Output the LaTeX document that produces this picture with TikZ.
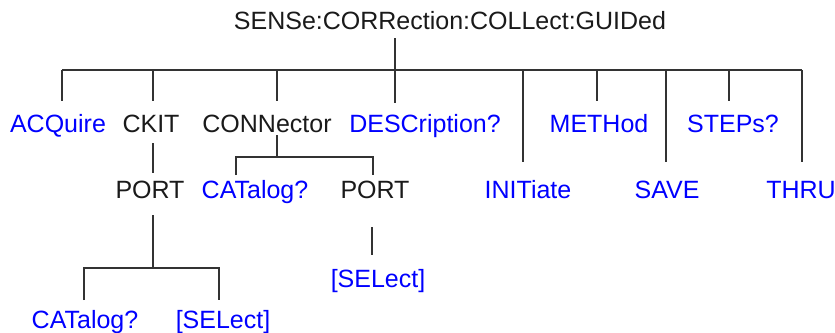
\documentclass[tikz,border=0pt]{standalone}
\usepackage{fontspec}
\setmainfont{Liberation Sans}
\definecolor{cmdblue}{RGB}{0,0,255}
\definecolor{txt}{RGB}{26,26,26}
\definecolor{wire}{RGB}{51,51,51}
\begin{document}
\begin{tikzpicture}[x=1pt,y=-1pt,
  lbl/.style={anchor=base,inner sep=0pt,font=\fontsize{25}{30}\selectfont,text=txt},
  cmd/.style={lbl,text=cmdblue},
  wire/.style={draw=wire,line width=1.3pt}]
\useasboundingbox (0,0) rectangle (835,332);
% nodes
\node[lbl] (title) at (450,29) {SENSe:CORRection:COLLect:GUIDed};
\node[cmd] (acq)   at (58,132)  {ACQuire};
\node[lbl] (ckit)  at (151,132) {CKIT};
\node[lbl] (conn)  at (267,132) {CONNector};
\node[cmd] (desc)  at (425,132) {DESCription?};
\node[cmd] (meth)  at (599,132) {METHod};
\node[cmd] (steps) at (733,132) {STEPs?};
\node[lbl] (port1) at (150,198) {PORT};
\node[cmd] (cat1)  at (255,198) {CATalog?};
\node[lbl] (port2) at (375,198) {PORT};
\node[cmd] (init)  at (528,198) {INITiate};
\node[cmd] (save)  at (667,198) {SAVE};
\node[cmd] (thru)  at (801,198) {THRU};
\node[cmd] (sel2)  at (378,287) {[SELect]};
\node[cmd] (cat2)  at (85,328)  {CATalog?};
\node[cmd] (sel1)  at (223,328) {[SELect]};
% junction coordinates
\coordinate (t0) at (395,38);
\coordinate (d0) at (395,103);
\coordinate (b0) at (62,70);
\coordinate (b1) at (802,70);
\coordinate (a0) at (62,101);
\coordinate (k0) at (153,70);  \coordinate (k1) at (153,101);
\coordinate (c0) at (277,70);  \coordinate (c1) at (277,101);
\coordinate (m0) at (597,70);  \coordinate (m1) at (597,101);
\coordinate (s0) at (729,70);  \coordinate (s1) at (729,101);
\coordinate (i0) at (523,70);  \coordinate (i1) at (523,162);
\coordinate (v0) at (666,70);  \coordinate (v1) at (666,162);
\coordinate (h1) at (802,162);
\coordinate (kp0) at (153,143); \coordinate (kp1) at (153,173);
\coordinate (cn0) at (277,135); \coordinate (cn1) at (277,157);
\coordinate (cb0) at (236,157); \coordinate (cb1) at (373,157);
\coordinate (cd0) at (236,175); \coordinate (cd1) at (373,175);
\coordinate (p0) at (153,215);  \coordinate (p1) at (153,268);
\coordinate (pb0) at (84,268);  \coordinate (pb1) at (219,268);
\coordinate (pd0) at (84,300);  \coordinate (pd1) at (219,300);
\coordinate (q0) at (372,227);  \coordinate (q1) at (372,255);
% wires
\draw[wire] (b0) -- (b1);
\draw[wire] (t0) -- (d0);
\draw[wire] (b0) -- (a0);
\draw[wire] (k0) -- (k1);
\draw[wire] (c0) -- (c1);
\draw[wire] (m0) -- (m1);
\draw[wire] (s0) -- (s1);
\draw[wire] (i0) -- (i1);
\draw[wire] (v0) -- (v1);
\draw[wire] (b1) -- (h1);
\draw[wire] (kp0) -- (kp1);
\draw[wire] (cn0) -- (cn1);
\draw[wire] (cd0) -- (cb0) -- (cb1) -- (cd1);
\draw[wire] (p0) -- (p1);
\draw[wire] (pd0) -- (pb0) -- (pb1) -- (pd1);
\draw[wire] (q0) -- (q1);
\end{tikzpicture}
\end{document}
